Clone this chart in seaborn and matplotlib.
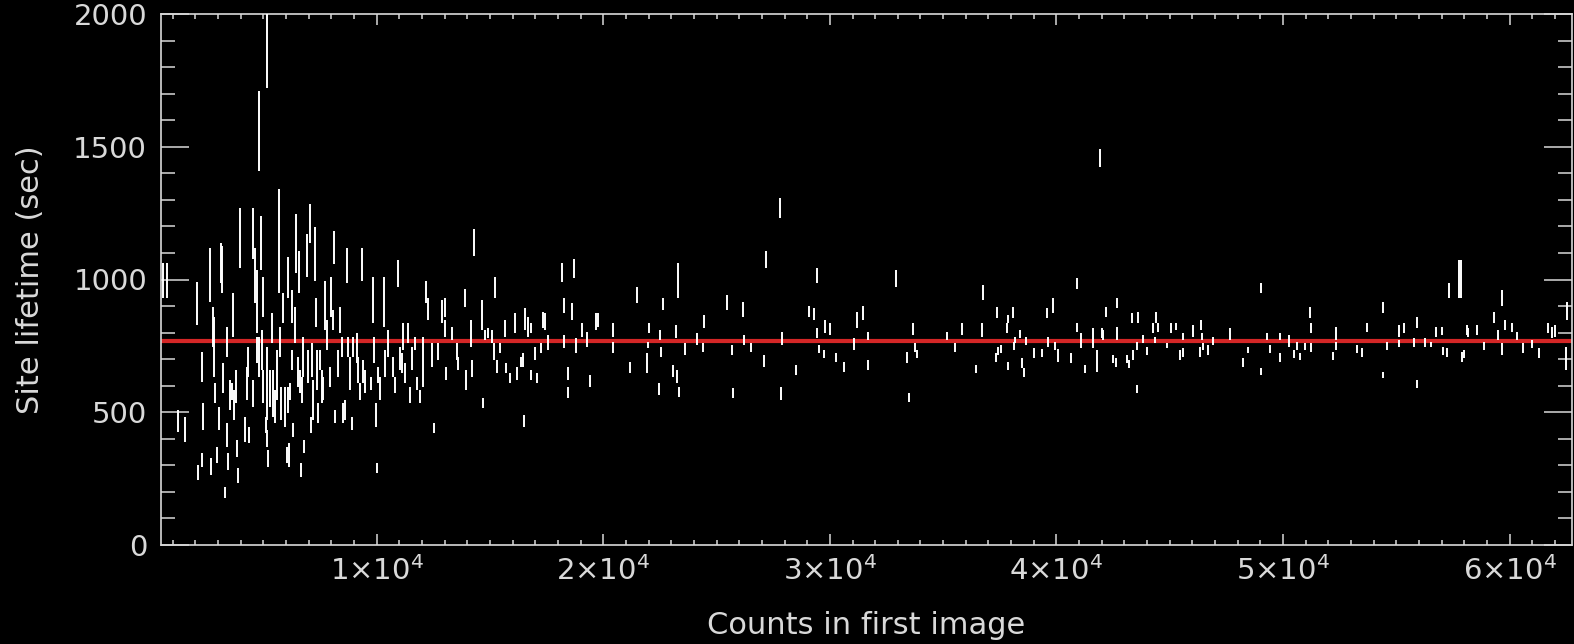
import matplotlib
matplotlib.use("Agg")
import matplotlib.pyplot as plt
import seaborn as sns
import pandas as pd
from matplotlib.ticker import FixedLocator, MultipleLocator

# ---- data: counts, lower / upper end of each error bar (sec)
counts = [
    574, 750, 1236, 1545, 2074, 2118, 2295, 2295, 2339, 2648, 2692, 2780, 2824, 2868, 2957, 3045,
    3133, 3177, 3221, 3310, 3398, 3398, 3442, 3530, 3619, 3663, 3707, 3795, 3839, 3883, 3972, 4192,
    4281, 4325, 4369, 4545, 4545, 4634, 4722, 4722, 4810, 4810, 4898, 4943, 4987, 4987, 5119, 5163,
    5163, 5163, 5207, 5296, 5384, 5428, 5516, 5605, 5693, 5737, 5781, 5869, 5958, 6046, 6090, 6090,
    6134, 6178, 6266, 6266, 6311, 6399, 6443, 6531, 6575, 6620, 6664, 6708, 6752, 6796, 6928, 6973,
    7061, 7105, 7149, 7193, 7281, 7326, 7370, 7414, 7502, 7590, 7634, 7723, 7811, 7943, 7988, 8076,
    8120, 8164, 8296, 8385, 8473, 8517, 8605, 8694, 8738, 8826, 8914, 8958, 9135, 9179, 9267, 9356,
    9400, 9488, 9753, 9841, 9885, 9973, 10018, 10062, 10150, 10326, 10371, 10503, 10724, 10812, 10944, 11033,
    11121, 11165, 11253, 11386, 11474, 11562, 11694, 11783, 11915, 12047, 12180, 12268, 12445, 12533, 12709, 12886,
    13018, 13018, 13062, 13327, 13548, 13592, 13901, 13945, 14166, 14210, 14298, 14651, 14695, 14784, 14916, 15092,
    15181, 15225, 15313, 15446, 15666, 15710, 15887, 16107, 16196, 16372, 16460, 16505, 16549, 16681, 16814, 16814,
    16990, 17078, 17255, 17343, 17431, 17564, 18182, 18270, 18270, 18446, 18446, 18623, 18711, 18799, 19064, 19285,
    19417, 19682, 19770, 20432, 20432, 21182, 21491, 21932, 21976, 22021, 22462, 22506, 22550, 22639, 23080, 23212,
    23256, 23301, 23345, 23610, 24139, 24404, 24448, 25463, 25684, 25728, 26169, 26213, 26522, 27096, 27184, 27802,
    27890, 27846, 28508, 29082, 29302, 29435, 29435, 29523, 29744, 29788, 30008, 30273, 30626, 31068, 31200, 31465,
    31685, 31685, 32921, 33406, 33494, 33671, 33759, 33848, 35172, 35525, 35834, 36451, 36716, 36760, 37334, 37378,
    37422, 37555, 37820, 37864, 37864, 38084, 38128, 38172, 38393, 38481, 38570, 38658, 39011, 39364, 39585, 39629,
    39849, 39938, 40070, 40644, 40908, 40908, 41085, 41262, 41615, 41791, 41924, 42012, 42056, 42188, 42497, 42630,
    42674, 42674, 43115, 43203, 43336, 43380, 43557, 43557, 43600, 43821, 43998, 44262, 44351, 44395, 44483, 44880,
    45057, 45277, 45454, 45586, 45586, 46028, 46337, 46381, 46425, 46469, 46690, 46910, 47660, 48234, 48455, 49028,
    49028, 49293, 49426, 49867, 49867, 50264, 50485, 50617, 50750, 50970, 51191, 51235, 51235, 52206, 52338, 52338,
    53265, 53486, 53706, 54412, 54412, 54589, 55118, 55118, 55339, 55780, 55913, 55913, 56266, 56531, 56751, 57016,
    57060, 57237, 57325, 57766, 57854, 57899, 57987, 58119, 58164, 58561, 58870, 59311, 59488, 59664, 59664, 59797,
    60106, 60326, 60591, 60988, 61297, 61694, 61871, 62003, 62533, 62489,
]
life_lo = [
    929, 929, 425, 387, 827, 244, 613, 293, 432, 914, 263, 744, 632, 534, 308, 432,
    985, 948, 572, 177, 707, 368, 282, 508, 545, 782, 470, 534, 331, 233, 1045, 387,
    545, 632, 384, 1079, 519, 910, 684, 797, 632, 1410, 1034, 658, 857, 534, 421, 1722,
    368, 470, 293, 519, 760, 481, 459, 545, 951, 707, 470, 835, 444, 308, 932, 496,
    293, 545, 658, 835, 406, 760, 1023, 594, 948, 572, 256, 534, 632, 346, 1008, 609,
    1136, 421, 632, 470, 996, 820, 583, 459, 658, 534, 545, 808, 733, 594, 857, 808,
    1060, 459, 632, 797, 707, 459, 470, 985, 707, 583, 432, 707, 684, 609, 545, 996,
    609, 572, 583, 835, 684, 444, 271, 609, 545, 820, 632, 707, 632, 572, 970, 658,
    647, 733, 609, 760, 534, 658, 733, 583, 534, 594, 910, 846, 669, 421, 696, 835,
    857, 782, 620, 771, 696, 658, 895, 583, 744, 632, 1090, 808, 515, 771, 778, 760,
    696, 932, 647, 722, 782, 647, 609, 797, 620, 669, 669, 444, 808, 782, 620, 797,
    696, 609, 722, 816, 808, 733, 989, 872, 741, 620, 553, 846, 1004, 722, 782, 744,
    594, 808, 820, 782, 722, 647, 910, 647, 741, 797, 564, 771, 707, 884, 632, 778,
    609, 929, 556, 714, 752, 726, 816, 884, 714, 553, 857, 752, 726, 669, 1042, 1233,
    752, 545, 639, 857, 846, 985, 778, 722, 703, 797, 790, 688, 650, 733, 816, 846,
    771, 658, 970, 684, 538, 790, 726, 703, 771, 726, 790, 647, 782, 921, 688, 854,
    714, 722, 797, 835, 658, 854, 733, 760, 778, 666, 632, 752, 703, 707, 854, 744,
    872, 733, 688, 684, 966, 801, 741, 647, 741, 650, 1425, 778, 771, 857, 684, 669,
    771, 891, 684, 666, 835, 696, 572, 733, 838, 760, 714, 797, 760, 838, 801, 741,
    797, 808, 696, 707, 771, 782, 707, 808, 771, 733, 714, 752, 771, 669, 722, 948,
    639, 771, 722, 771, 688, 744, 703, 733, 696, 733, 854, 797, 726, 696, 771, 733,
    722, 707, 801, 872, 628, 733, 782, 744, 797, 744, 816, 590, 744, 744, 782, 790,
    714, 707, 929, 929, 929, 688, 703, 790, 782, 790, 733, 838, 771, 902, 714, 808,
    801, 771, 722, 741, 703, 797, 778, 782, 846, 658,
]
life_hi = [
    1064, 1064, 508, 481, 989, 301, 726, 346, 534, 1117, 327, 895, 857, 609, 368, 519,
    1139, 1128, 684, 218, 820, 459, 346, 620, 609, 948, 583, 658, 395, 290, 1271, 481,
    669, 744, 444, 1271, 620, 1120, 782, 1034, 782, 1711, 1241, 808, 1008, 658, 481, 2050,
    432, 744, 357, 658, 872, 658, 583, 733, 1342, 820, 594, 948, 594, 368, 1083, 594,
    384, 609, 733, 959, 459, 895, 1248, 707, 1109, 658, 308, 632, 782, 395, 1173, 733,
    1286, 481, 760, 620, 1196, 932, 733, 534, 733, 658, 632, 996, 846, 669, 1008, 884,
    1184, 508, 733, 895, 782, 534, 545, 1120, 782, 707, 481, 782, 797, 707, 609, 1120,
    696, 658, 632, 1008, 782, 534, 308, 669, 632, 1008, 733, 808, 707, 632, 1072, 744,
    722, 835, 684, 835, 594, 744, 782, 632, 583, 782, 996, 929, 760, 459, 760, 921,
    932, 846, 669, 820, 760, 707, 966, 658, 846, 696, 1192, 921, 553, 808, 816, 808,
    760, 1008, 696, 760, 846, 684, 647, 872, 669, 707, 722, 489, 891, 857, 658, 835,
    744, 647, 760, 876, 872, 790, 1064, 932, 790, 669, 594, 910, 1079, 778, 838, 801,
    639, 872, 872, 838, 763, 688, 970, 722, 763, 838, 609, 808, 744, 932, 677, 827,
    658, 1064, 594, 760, 797, 760, 865, 940, 752, 590, 914, 790, 760, 714, 1109, 1308,
    801, 594, 677, 902, 891, 1042, 816, 752, 733, 846, 835, 722, 688, 778, 876, 902,
    801, 696, 1034, 726, 572, 835, 760, 733, 801, 760, 838, 677, 835, 978, 722, 895,
    744, 752, 838, 865, 688, 895, 763, 782, 808, 703, 666, 782, 741, 737, 891, 782,
    932, 763, 737, 722, 1004, 835, 797, 677, 816, 733, 1493, 816, 808, 895, 714, 703,
    820, 929, 714, 696, 872, 733, 602, 763, 876, 790, 744, 838, 782, 876, 835, 760,
    835, 838, 733, 741, 797, 827, 744, 846, 797, 760, 752, 782, 816, 703, 744, 985,
    666, 797, 752, 797, 722, 790, 733, 763, 722, 760, 895, 835, 760, 726, 820, 763,
    752, 741, 838, 914, 650, 763, 827, 771, 835, 778, 857, 620, 778, 763, 820, 820,
    744, 741, 985, 1072, 1072, 726, 733, 827, 816, 827, 763, 876, 808, 959, 760, 846,
    838, 801, 760, 771, 741, 835, 820, 827, 914, 744,
]
mean_lifetime = 770

x_tick_values = [10000, 20000, 30000, 40000, 50000, 60000]
x_tick_labels = [r"1$\times$10$^{4}$", r"2$\times$10$^{4}$", r"3$\times$10$^{4}$",
                 r"4$\times$10$^{4}$", r"5$\times$10$^{4}$", r"6$\times$10$^{4}$"]
y_tick_values = [0, 500, 1000, 1500, 2000]
x_label = "Counts in first image"
y_label = "Site lifetime (sec)"

df = pd.DataFrame({"counts": counts, "lo": life_lo, "hi": life_hi})

FG = "#d9d9d9"
sns.set_theme(style="dark", rc={
    "axes.facecolor": "black", "figure.facecolor": "black",
    "axes.edgecolor": FG, "axes.labelcolor": FG,
    "xtick.color": FG, "ytick.color": FG, "text.color": FG,
    "axes.grid": False,
})
plt.rcParams["font.family"] = ["DejaVu Sans"]
plt.rcParams["mathtext.fontset"] = "dejavusans"

W, H = 1574, 644
fig = plt.figure(figsize=(W / 100, H / 100), dpi=100)
ax = fig.add_axes([161 / W, 99 / H, 1411 / W, 531 / H])
ax.set_facecolor("black")

ax.axhline(mean_lifetime, color="#d42626", linewidth=3.0, zorder=2)
ax.vlines(df["counts"], df["lo"], df["hi"], colors="white", linewidth=1.4, zorder=3)

ax.set_xlim(485, 62750)
ax.set_ylim(0, 2000)

ax.xaxis.set_major_locator(FixedLocator(x_tick_values))
ax.set_xticklabels(x_tick_labels)
ax.xaxis.set_minor_locator(MultipleLocator(1000))
ax.yaxis.set_major_locator(FixedLocator(y_tick_values))
ax.yaxis.set_minor_locator(MultipleLocator(100))

ax.tick_params(axis="both", which="both", direction="in", bottom=True, top=True,
               left=True, right=True, colors=FG, labelsize=21, width=1.1)
ax.tick_params(axis="x", which="major", length=7.6, pad=8)
ax.tick_params(axis="x", which="minor", length=3.8)
ax.tick_params(axis="y", which="major", length=20, pad=10)
ax.tick_params(axis="y", which="minor", length=10)

for s in ax.spines.values():
    s.set_visible(True)
    s.set_color(FG)
    s.set_linewidth(1.2)

ax.set_xlabel(x_label, fontsize=22, color=FG)
ax.set_ylabel(y_label, fontsize=22, color=FG)
ax.xaxis.set_label_coords(0.5, -0.125)
ax.yaxis.set_label_coords(-0.082, 0.5)
ax.grid(False)

fig.savefig("out.png", dpi=100, facecolor="black")
